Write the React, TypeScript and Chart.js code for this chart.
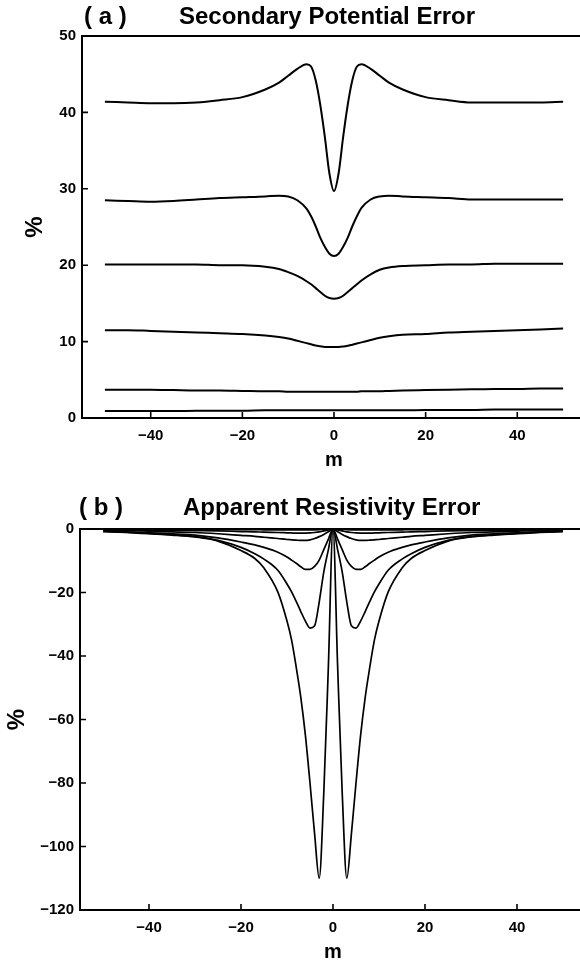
import React, { useEffect, useRef } from "react";
import { Chart, registerables } from "chart.js";

Chart.register(...registerables);

// ---------- data ----------
const X_TICKS = [-40, -20, 0, 20, 40];
const A_Y_TICKS = [0, 10, 20, 30, 40, 50];
const B_Y_TICKS = [-120, -100, -80, -60, -40, -20, 0];

const A_X = [-50, -45, -40, -35, -30, -25, -20, -15, -12, -10, -8, -6, -5, -4, -3, -2, -1, 0, 1, 2, 3, 4, 5, 6, 8, 10, 12, 15, 20, 25, 30, 35, 40, 45, 50];
const A_CURVE_1 = [41.4, 41.3, 41.2, 41.2, 41.3, 41.6, 42.0, 43.0, 43.9, 44.8, 45.7, 46.3, 46.0, 44.2, 41.0, 36.8, 32.0, 29.7, 32.0, 36.8, 41.0, 44.2, 46.0, 46.3, 45.7, 44.8, 43.9, 43.0, 42.0, 41.6, 41.3, 41.3, 41.3, 41.3, 41.4];
const A_CURVE_2 = [28.5, 28.4, 28.3, 28.4, 28.6, 28.8, 28.9, 29.0, 29.1, 29.0, 28.5, 27.4, 26.4, 25.1, 23.6, 22.4, 21.5, 21.2, 21.5, 22.4, 23.6, 25.1, 26.4, 27.5, 28.6, 29.0, 29.1, 29.0, 28.9, 28.8, 28.6, 28.6, 28.6, 28.6, 28.6];
const A_CURVE_3 = [20.1, 20.1, 20.1, 20.1, 20.1, 20.0, 20.0, 19.8, 19.5, 19.1, 18.6, 17.9, 17.5, 17.0, 16.5, 16.0, 15.7, 15.6, 15.7, 16.0, 16.5, 17.0, 17.5, 18.0, 18.8, 19.4, 19.7, 19.9, 20.0, 20.1, 20.1, 20.2, 20.2, 20.2, 20.2];
const A_CURVE_4 = [11.5, 11.5, 11.4, 11.3, 11.2, 11.1, 11.0, 10.8, 10.6, 10.4, 10.1, 9.8, 9.65, 9.5, 9.4, 9.3, 9.3, 9.3, 9.3, 9.35, 9.45, 9.6, 9.75, 9.9, 10.2, 10.5, 10.7, 10.9, 11.0, 11.2, 11.3, 11.4, 11.5, 11.6, 11.7];
const A_CURVE_5 = [3.7, 3.7, 3.7, 3.65, 3.6, 3.6, 3.55, 3.5, 3.5, 3.45, 3.45, 3.45, 3.45, 3.45, 3.45, 3.45, 3.45, 3.45, 3.45, 3.45, 3.45, 3.45, 3.45, 3.5, 3.5, 3.5, 3.55, 3.6, 3.65, 3.7, 3.75, 3.8, 3.8, 3.85, 3.85];
const A_CURVE_6 = [0.9, 0.9, 0.9, 0.9, 0.95, 0.95, 0.95, 1.0, 1.0, 1.0, 1.0, 1.0, 1.0, 1.0, 1.0, 1.0, 1.0, 1.0, 1.0, 1.0, 1.0, 1.0, 1.0, 1.0, 1.0, 1.0, 1.0, 1.0, 1.05, 1.05, 1.05, 1.1, 1.1, 1.1, 1.1];

const B_X = [-50, -45, -40, -35, -30, -25, -20, -17, -15, -12, -10, -9, -8, -7, -6, -5, -4, -3, -2, -1, 0, 1, 2, 3, 4, 5, 6, 7, 8, 9, 10, 12, 15, 17, 20, 25, 30, 35, 40, 45, 50];
const B_CURVE_1 = [-0.05, -0.05, -0.1, -0.1, -0.1, -0.15, -0.2, -0.2, -0.25, -0.3, -0.3, -0.3, -0.3, -0.3, -0.3, -0.3, -0.25, -0.2, -0.15, -0.1, 0, -0.1, -0.15, -0.2, -0.25, -0.3, -0.3, -0.3, -0.3, -0.3, -0.3, -0.3, -0.25, -0.2, -0.2, -0.15, -0.1, -0.1, -0.1, -0.05, -0.05];
const B_CURVE_2 = [-0.2, -0.3, -0.35, -0.4, -0.5, -0.6, -0.8, -0.9, -1.0, -1.1, -1.2, -1.25, -1.3, -1.3, -1.3, -1.25, -1.1, -0.9, -0.6, -0.3, 0, -0.3, -0.6, -0.9, -1.1, -1.25, -1.3, -1.3, -1.3, -1.25, -1.2, -1.1, -1.0, -0.9, -0.8, -0.6, -0.5, -0.4, -0.35, -0.3, -0.2];
const B_CURVE_3 = [-0.4, -0.5, -0.7, -0.9, -1.1, -1.5, -2.0, -2.3, -2.6, -3.0, -3.3, -3.4, -3.5, -3.6, -3.6, -3.4, -3.0, -2.4, -1.7, -0.9, 0, -0.9, -1.7, -2.4, -3.0, -3.4, -3.6, -3.6, -3.5, -3.4, -3.3, -3.0, -2.6, -2.3, -2.0, -1.5, -1.1, -0.9, -0.7, -0.5, -0.4];
const B_CURVE_4 = [-0.6, -0.9, -1.2, -1.5, -1.9, -2.8, -4.1, -5.0, -5.8, -7.3, -8.8, -9.8, -10.8, -11.9, -12.7, -12.7, -11.8, -9.8, -6.5, -3.2, 0, -3.2, -6.5, -9.8, -11.8, -12.7, -12.7, -11.9, -10.8, -9.8, -8.8, -7.3, -5.8, -5.0, -4.1, -2.8, -1.9, -1.5, -1.2, -0.9, -0.6];
const B_CURVE_5 = [-0.7, -1.0, -1.4, -1.8, -2.3, -3.6, -5.8, -7.8, -9.5, -13.0, -17.3, -19.8, -22.8, -26.0, -29.0, -31.2, -30.5, -23.0, -13.5, -6.5, 0, -6.5, -13.5, -23.0, -30.5, -31.2, -29.0, -26.0, -22.8, -19.8, -17.3, -13.0, -9.5, -7.8, -5.8, -3.6, -2.3, -1.8, -1.4, -1.0, -0.7];
const B_CURVE_6 = [-0.8, -1.1, -1.5, -1.9, -2.5, -3.8, -6.8, -9.3, -12.3, -19.8, -29.0, -35.0, -43.5, -53.0, -65.0, -80.0, -96.0, -110.0, -83.0, -43.0, 0, -43.0, -83.0, -110.0, -96.0, -80.0, -65.0, -53.0, -43.5, -35.0, -29.0, -19.8, -12.3, -9.3, -6.8, -3.8, -2.5, -1.9, -1.5, -1.1, -0.8];

const A_SERIES = [A_CURVE_1, A_CURVE_2, A_CURVE_3, A_CURVE_4, A_CURVE_5, A_CURVE_6];
const B_SERIES = [B_CURVE_1, B_CURVE_2, B_CURVE_3, B_CURVE_4, B_CURVE_5, B_CURVE_6];

const FONT = '"Liberation Sans", Arial, Helvetica, sans-serif';

const fmt = (v: number) => (v < 0 ? "\u2212" + Math.abs(v) : String(v));

type PanelProps = {
  top: number;
  height: number;
  xs: number[];
  series: number[][];
  yMin: number;
  yMax: number;
  yTicks: number[];
  padTop: number;
  padLeft: number;
  yWidth: number;
  tag: string;
  title: string;
  tagX: number;
  titleX: number;
  titleGap: number;
  lineWidth: number;
  mPad: number;
};

function Panel(p: PanelProps) {
  const ref = useRef<HTMLCanvasElement | null>(null);
  useEffect(() => {
    if (!ref.current) return;
    const frame = {
      id: "frameAndTitles",
      afterDraw(chart: any) {
        const { ctx, chartArea } = chart;
        const { left, right, top, bottom } = chartArea;
        const xs = chart.scales.x;
        const ys = chart.scales.y;
        ctx.save();
        ctx.strokeStyle = "#000";
        ctx.lineWidth = 2;
        ctx.beginPath();
        ctx.moveTo(left - 1, top);
        ctx.lineTo(right, top);
        ctx.stroke();
        ctx.lineWidth = 1.6;
        ctx.beginPath();
        xs.ticks.forEach((t: any) => {
          const px = xs.getPixelForValue(t.value);
          ctx.moveTo(px, bottom);
          ctx.lineTo(px, bottom - 6);
        });
        ys.ticks.forEach((t: any) => {
          const py = ys.getPixelForValue(t.value);
          ctx.moveTo(left, py);
          ctx.lineTo(left + 6, py);
        });
        ctx.stroke();
        ctx.fillStyle = "#000";
        ctx.font = `bold 24px ${FONT}`;
        ctx.textAlign = "left";
        ctx.textBaseline = "alphabetic";
        ctx.fillText(p.tag, p.tagX, top - p.titleGap);
        ctx.fillText(p.title, p.titleX, top - p.titleGap);
        ctx.restore();
      },
    };
    const chart = new Chart(ref.current, {
      type: "line",
      data: {
        datasets: p.series.map((s, k) => ({
          label: "curve " + (k + 1),
          data: p.xs.map((x, i) => ({ x, y: s[i] })),
          borderColor: "#000",
          borderWidth: p.lineWidth,
          pointRadius: 0,
          fill: false,
          cubicInterpolationMode: "monotone" as const,
        })),
      },
      options: {
        responsive: false,
        animation: false,
        events: [],
        layout: { padding: { top: p.padTop, left: p.padLeft, right: 14, bottom: 0 } },
        plugins: { legend: { display: false }, tooltip: { enabled: false }, title: { display: false } },
        scales: {
          x: {
            type: "linear",
            min: -55,
            max: 55,
            afterBuildTicks: (s: any) => {
              s.ticks = X_TICKS.map((v) => ({ value: v }));
            },
            afterFit: (s: any) => {
              s.height = 62;
            },
            grid: { display: false, drawTicks: false, tickLength: 0 },
            border: { display: true, color: "#000", width: 2 },
            ticks: {
              color: "#000",
              padding: 9,
              maxRotation: 0,
              font: { family: FONT, size: 15, weight: "bold" },
              callback: (v: any) => fmt(Number(v)),
            },
            title: {
              display: true,
              text: "m",
              color: "#000",
              font: { family: FONT, size: 20, weight: "bold" },
              padding: { top: 0, bottom: p.mPad },
            },
          },
          y: {
            type: "linear",
            min: p.yMin,
            max: p.yMax,
            afterBuildTicks: (s: any) => {
              s.ticks = p.yTicks.map((v) => ({ value: v }));
            },
            afterFit: (s: any) => {
              s.width = p.yWidth;
            },
            grid: { display: false, drawTicks: false, tickLength: 0 },
            border: { display: true, color: "#000", width: 2 },
            ticks: {
              color: "#000",
              padding: 6,
              font: { family: FONT, size: 15, weight: "bold" },
              callback: (v: any) => fmt(Number(v)),
            },
            title: {
              display: true,
              text: "%",
              color: "#000",
              font: { family: FONT, size: 24, weight: "bold" },
              padding: { top: 0, bottom: 0 },
            },
          },
        },
      },
      plugins: [frame],
    } as any);
    return () => chart.destroy();
  }, []);
  return (
    <canvas
      ref={ref}
      width={600}
      height={p.height}
      style={{ position: "absolute", left: 0, top: p.top, width: 600, height: p.height, display: "block" }}
    />
  );
}

export default function App() {
  return (
    <div
      style={{
        position: "fixed",
        left: 0,
        top: 0,
        width: 580,
        height: 963,
        overflow: "hidden",
        background: "#fff",
      }}
    >
      <Panel
        top={0}
        height={480}
        xs={A_X}
        series={A_SERIES}
        yMin={0}
        yMax={50}
        yTicks={A_Y_TICKS}
        padTop={36}
        padLeft={21}
        yWidth={61}
        tag="( a )"
        title="Secondary Potential Error"
        tagX={84}
        titleX={179}
        titleGap={12}
        lineWidth={2}
        mPad={8}
      />
      <Panel
        top={480}
        height={492}
        xs={B_X}
        series={B_SERIES}
        yMin={-120}
        yMax={0}
        yTicks={B_Y_TICKS}
        padTop={49}
        padLeft={3}
        yWidth={77}
        tag="( b )"
        title="Apparent Resistivity Error"
        tagX={79}
        titleX={183}
        titleGap={14}
        lineWidth={1.7}
        mPad={7.5}
      />
    </div>
  );
}
